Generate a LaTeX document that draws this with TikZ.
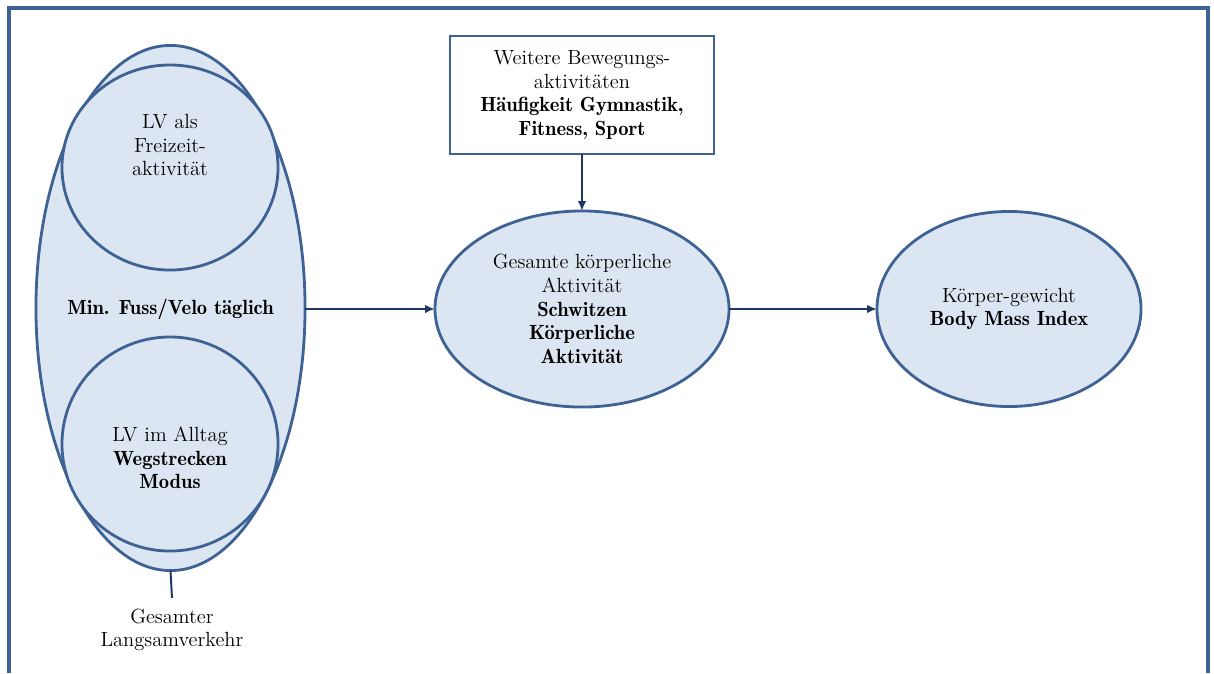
\documentclass[tikz,border=0pt]{standalone}
\usepackage{tikz}
\usetikzlibrary{arrows.meta, shapes.geometric, positioning}
\definecolor{figB}{RGB}{62,98,148}
\definecolor{figN}{RGB}{30,56,100}
\definecolor{figF}{RGB}{220,230,242}
\newcommand{\lvfont}{\fontsize{14.6}{16.8}\selectfont}
\newcommand{\lvb}[1]{{\fontseries{b}\selectfont #1}}
\tikzset{
  lvbubble/.style={ellipse, draw=figB, fill=figF, line width=2pt, inner sep=0pt, outer sep=0pt, align=center, font=\lvfont},
  infobox/.style={rectangle, draw=figB, fill=white, line width=2pt, inner sep=0pt, outer sep=0pt, align=center, font=\lvfont},
  txt/.style={align=center, font=\lvfont, inner sep=0pt},
  link/.style={-{Latex[length=7pt,width=6pt]}, line width=1.4pt, figN}
}

\begin{document}
\begin{tikzpicture}[x=0.025cm, y=-0.025cm]
\useasboundingbox (0,0) rectangle (1214,673);
% frame, open at the bottom
\draw[figB, line width=2.2pt] (9,673) -- (9,8) -- (1208,8) -- (1208,673);
% Left: slow traffic, two parts in one
\node[lvbubble, minimum width=6.725cm, minimum height=13.125cm] (lvall) at (170.5,308) {};
\node[lvbubble, minimum width=5.4cm, minimum height=5.125cm] (lvfrei) at (170,167.5) {};
\node[lvbubble, minimum width=5.4cm, minimum height=5.35cm] (lvalltag) at (170,444) {};
\node[txt] (lvalltxt) at (170.5,309) {\lvb{Min. Fuss/Velo täglich}};
\node[txt] (lvfreitxt) at (170,145) {LV als\\Freizeit-\\aktivität};
\node[txt] (lvalltagtxt) at (170,458) {LV im Alltag\\\lvb{Wegstrecken}\\\lvb{Modus}};
\coordinate (lvtail) at (172,598);
\draw[figN, line width=1.4pt] (lvall.south) -- (lvtail);
\node[txt] (gesamt) at (172,630) {Gesamter\\Langsamverkehr};
% Middle: further activities and total activity
\node[infobox, minimum width=6.6cm, minimum height=2.95cm] (weitere) at (582,95) {Weitere Bewegungs-\\aktivitäten\\\lvb{Häufigkeit Gymnastik,}\\\lvb{Fitness, Sport}};
\node[lvbubble, minimum width=7.35cm, minimum height=4.9cm] (gesakt) at (582,309) {Gesamte körperliche\\Aktivität\\\lvb{Schwitzen}\\\lvb{Körperliche}\\\lvb{Aktivität}};
% Right: body weight
\node[lvbubble, minimum width=6.6cm, minimum height=4.875cm] (bmi) at (1009,309) {Körper-gewicht\\\lvb{Body Mass Index}};
% arrows
\draw[link] (weitere.south) -- (gesakt.north);
\draw[link] (lvall.east |- gesakt.west) -- (gesakt.west);
\draw[link] (gesakt.east) -- (bmi.west);
\end{tikzpicture}
\end{document}
